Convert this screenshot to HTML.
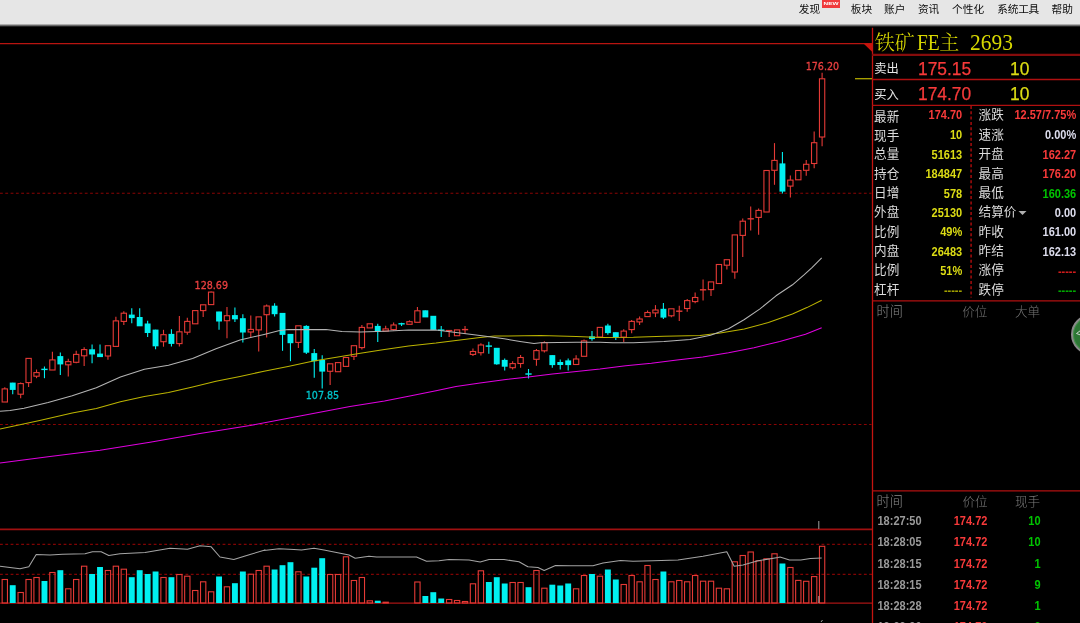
<!DOCTYPE html>
<html lang="zh"><head><meta charset="utf-8"><title>铁矿FE主</title>
<style>
html,body{margin:0;padding:0;background:#000;}
body{width:1080px;height:623px;position:relative;overflow:hidden;font-family:"Liberation Sans","Noto Sans CJK SC",sans-serif;}
#top{position:absolute;left:0;top:0;width:1080px;height:27px;background:linear-gradient(#e6e6e6 0,#e6e6e6 23.7px,#6e6e6e 25.4px,#000 27px);}
#top span{position:absolute;top:2px;font-size:10.7px;line-height:14px;color:#0c0c0c;white-space:nowrap;font-family:"Liberation Sans","Noto Sans CJK SC",sans-serif;}
#new{position:absolute;left:821.9px;top:0;width:18px;height:7.7px;background:#f03a3c;overflow:hidden}
#new b{position:absolute;left:0;top:2.3px;width:18px;text-align:center;color:#fff;font-size:4.3px;line-height:3.6px;font-weight:bold;transform:scaleX(1.5);transform-origin:50% 50%;display:block}
.vline{position:absolute;left:871.8px;top:27.8px;width:1.2px;height:600px;background:#c81010;}
.hl{position:absolute;left:872px;width:208px;background:#a60f0f;}
#title,.tt{position:absolute;top:31.1px;font-family:"Liberation Serif","Noto Serif CJK SC",serif;font-size:20px;line-height:24px;color:#dede00;white-space:nowrap;font-weight:300}
.tl{position:absolute;top:29.6px;font-family:"Liberation Serif","Noto Serif CJK SC",serif;font-size:23.2px;line-height:24px;color:#d8d800;transform-origin:0 50%;white-space:nowrap}
.big{position:absolute;font-size:18.4px;line-height:22px;white-space:nowrap;transform:scaleX(0.945);transform-origin:0 50%;-webkit-text-stroke:0.25px currentColor}
.lb{position:absolute;font-size:12.6px;line-height:16px;color:#dcdcdc;white-space:nowrap;font-family:"Noto Sans CJK SC","Liberation Sans",sans-serif;font-weight:400}
.lb2{position:absolute;font-size:12.3px;line-height:16px;color:#e6e6e6;white-space:nowrap;font-family:"Noto Sans CJK SC","Liberation Sans",sans-serif;font-weight:400}
.vl{position:absolute;font-size:11px;line-height:15px;font-weight:bold;white-space:nowrap;transform:scaleY(1.13);transform-origin:50% 52%}
.r{color:#f83a3a}.y{color:#dcdc14}.g{color:#00c400}.w{color:#dcdcec}.tm{color:#9a9a9a}
.yd{color:#a0a000;margin-top:1.1px}.rd{color:#d01c1c;margin-top:1.1px}.gd{color:#00a800;margin-top:1.1px}
.hd{position:absolute;font-size:12.3px;line-height:16px;white-space:nowrap;font-family:"Noto Sans CJK SC","Liberation Sans",sans-serif;font-weight:300}
</style></head><body>
<svg width="1080" height="623" viewBox="0 0 1080 623" style="position:absolute;left:0;top:0">
<g fill="none">
<line x1="0" y1="43.6" x2="872" y2="43.6" stroke="#b81410" stroke-width="1.1"/>
<polygon points="863.5,43.6 872.6,43.6 872.6,52.2" fill="#c8140c" stroke="none"/>
<line x1="0" y1="193.3" x2="871.5" y2="193.3" stroke="#8a0404" stroke-width="1.1" stroke-dasharray="2.8 2.5"/>
<line x1="0" y1="424.5" x2="871.5" y2="424.5" stroke="#8a0404" stroke-width="1.1" stroke-dasharray="2.8 2.5"/>
<line x1="0" y1="529.3" x2="872" y2="529.3" stroke="#a01010" stroke-width="1.7"/>
<line x1="0" y1="544.3" x2="872" y2="544.3" stroke="#800404" stroke-width="1.3" stroke-dasharray="2.8 2.5"/>
<line x1="0" y1="574.3" x2="872" y2="574.3" stroke="#800404" stroke-width="1.3" stroke-dasharray="2.8 2.5"/>
<line x1="0" y1="603.1" x2="872" y2="603.1" stroke="#a81414" stroke-width="1.3"/>
</g>
<g stroke-width="1.1">
<line x1="4.80" y1="387.3" x2="4.80" y2="388.9" stroke="#e53a36"/>
<rect x="2.15" y="388.9" width="5.30" height="13.1" fill="none" stroke="#e53a36"/>
<line x1="12.73" y1="382.8" x2="12.73" y2="394.2" stroke="#00f0f0"/>
<rect x="9.78" y="382.6" width="5.90" height="7.3" fill="#00f0f0" stroke="none"/>
<line x1="20.67" y1="382.5" x2="20.67" y2="383.6" stroke="#e53a36"/>
<line x1="20.67" y1="394.1" x2="20.67" y2="398.2" stroke="#e53a36"/>
<rect x="18.02" y="383.6" width="5.30" height="10.6" fill="none" stroke="#e53a36"/>
<line x1="28.61" y1="382.6" x2="28.61" y2="387.0" stroke="#e53a36"/>
<rect x="25.96" y="358.4" width="5.30" height="24.2" fill="none" stroke="#e53a36"/>
<line x1="36.54" y1="369.5" x2="36.54" y2="372.6" stroke="#e53a36"/>
<line x1="36.54" y1="376.1" x2="36.54" y2="378.2" stroke="#e53a36"/>
<rect x="33.89" y="372.6" width="5.30" height="3.6" fill="none" stroke="#e53a36"/>
<line x1="44.47" y1="366.5" x2="44.47" y2="378.2" stroke="#00f0f0"/>
<line x1="41.32" y1="369.4" x2="47.62" y2="369.4" stroke="#00f0f0" stroke-width="1.4"/>
<line x1="52.41" y1="351.8" x2="52.41" y2="359.9" stroke="#e53a36"/>
<rect x="49.76" y="359.9" width="5.30" height="10.1" fill="none" stroke="#e53a36"/>
<line x1="60.34" y1="352.5" x2="60.34" y2="375.0" stroke="#00f0f0"/>
<rect x="57.39" y="356.1" width="5.90" height="8.3" fill="#00f0f0" stroke="none"/>
<line x1="68.28" y1="358.8" x2="68.28" y2="361.6" stroke="#e53a36"/>
<line x1="68.28" y1="364.8" x2="68.28" y2="376.4" stroke="#e53a36"/>
<rect x="65.63" y="361.6" width="5.30" height="3.2" fill="none" stroke="#e53a36"/>
<line x1="76.21" y1="350.8" x2="76.21" y2="354.4" stroke="#e53a36"/>
<line x1="76.21" y1="362.3" x2="76.21" y2="363.2" stroke="#e53a36"/>
<rect x="73.56" y="354.4" width="5.30" height="7.9" fill="none" stroke="#e53a36"/>
<line x1="84.15" y1="347.3" x2="84.15" y2="349.6" stroke="#e53a36"/>
<line x1="84.15" y1="355.8" x2="84.15" y2="366.0" stroke="#e53a36"/>
<rect x="81.50" y="349.6" width="5.30" height="6.2" fill="none" stroke="#e53a36"/>
<line x1="92.08" y1="344.5" x2="92.08" y2="363.2" stroke="#00f0f0"/>
<rect x="89.13" y="349.3" width="5.90" height="5.2" fill="#00f0f0" stroke="none"/>
<line x1="100.02" y1="344.5" x2="100.02" y2="356.9" stroke="#00f0f0"/>
<rect x="97.07" y="353.6" width="5.90" height="3.5" fill="#00f0f0" stroke="none"/>
<line x1="107.95" y1="356.1" x2="107.95" y2="359.7" stroke="#e53a36"/>
<rect x="105.30" y="345.7" width="5.30" height="10.3" fill="none" stroke="#e53a36"/>
<line x1="115.89" y1="316.8" x2="115.89" y2="320.9" stroke="#e53a36"/>
<rect x="113.24" y="320.9" width="5.30" height="25.5" fill="none" stroke="#e53a36"/>
<line x1="123.82" y1="311.2" x2="123.82" y2="313.2" stroke="#e53a36"/>
<line x1="123.82" y1="321.4" x2="123.82" y2="325.1" stroke="#e53a36"/>
<rect x="121.17" y="313.2" width="5.30" height="8.2" fill="none" stroke="#e53a36"/>
<line x1="131.76" y1="308.3" x2="131.76" y2="323.2" stroke="#00f0f0"/>
<rect x="128.81" y="314.6" width="5.90" height="3.5" fill="#00f0f0" stroke="none"/>
<line x1="139.69" y1="308.3" x2="139.69" y2="326.0" stroke="#00f0f0"/>
<rect x="136.74" y="317.0" width="5.90" height="9.3" fill="#00f0f0" stroke="none"/>
<line x1="147.63" y1="320.8" x2="147.63" y2="336.9" stroke="#00f0f0"/>
<rect x="144.68" y="323.5" width="5.90" height="9.5" fill="#00f0f0" stroke="none"/>
<line x1="155.56" y1="329.8" x2="155.56" y2="349.2" stroke="#00f0f0"/>
<rect x="152.61" y="329.6" width="5.90" height="16.7" fill="#00f0f0" stroke="none"/>
<line x1="163.50" y1="329.8" x2="163.50" y2="334.7" stroke="#e53a36"/>
<line x1="163.50" y1="341.6" x2="163.50" y2="346.7" stroke="#e53a36"/>
<rect x="160.85" y="334.7" width="5.30" height="7.0" fill="none" stroke="#e53a36"/>
<line x1="171.44" y1="329.3" x2="171.44" y2="346.5" stroke="#00f0f0"/>
<rect x="168.48" y="333.9" width="5.90" height="10.0" fill="#00f0f0" stroke="none"/>
<line x1="179.37" y1="316.0" x2="179.37" y2="331.8" stroke="#e53a36"/>
<line x1="179.37" y1="343.6" x2="179.37" y2="346.5" stroke="#e53a36"/>
<rect x="176.72" y="331.8" width="5.30" height="11.8" fill="none" stroke="#e53a36"/>
<line x1="187.31" y1="317.7" x2="187.31" y2="321.4" stroke="#e53a36"/>
<line x1="187.31" y1="332.3" x2="187.31" y2="334.7" stroke="#e53a36"/>
<rect x="184.66" y="321.4" width="5.30" height="10.8" fill="none" stroke="#e53a36"/>
<rect x="192.59" y="310.6" width="5.30" height="13.2" fill="none" stroke="#e53a36"/>
<line x1="203.18" y1="310.6" x2="203.18" y2="317.1" stroke="#e53a36"/>
<rect x="200.53" y="304.8" width="5.30" height="5.8" fill="none" stroke="#e53a36"/>
<line x1="211.11" y1="291.5" x2="211.11" y2="292.1" stroke="#e53a36"/>
<rect x="208.46" y="292.1" width="5.30" height="12.5" fill="none" stroke="#e53a36"/>
<line x1="219.04" y1="311.7" x2="219.04" y2="329.7" stroke="#00f0f0"/>
<rect x="216.09" y="311.5" width="5.90" height="10.0" fill="#00f0f0" stroke="none"/>
<line x1="226.98" y1="306.9" x2="226.98" y2="315.7" stroke="#e53a36"/>
<line x1="226.98" y1="320.7" x2="226.98" y2="338.3" stroke="#e53a36"/>
<rect x="224.33" y="315.7" width="5.30" height="5.0" fill="none" stroke="#e53a36"/>
<line x1="234.91" y1="307.6" x2="234.91" y2="322.0" stroke="#00f0f0"/>
<rect x="231.96" y="315.1" width="5.90" height="4.2" fill="#00f0f0" stroke="none"/>
<line x1="242.85" y1="314.3" x2="242.85" y2="342.4" stroke="#00f0f0"/>
<rect x="239.90" y="318.2" width="5.90" height="14.3" fill="#00f0f0" stroke="none"/>
<line x1="250.78" y1="315.6" x2="250.78" y2="329.4" stroke="#e53a36"/>
<line x1="250.78" y1="332.0" x2="250.78" y2="336.9" stroke="#e53a36"/>
<rect x="248.13" y="329.4" width="5.30" height="2.6" fill="none" stroke="#e53a36"/>
<line x1="258.72" y1="329.8" x2="258.72" y2="351.6" stroke="#e53a36"/>
<rect x="256.07" y="316.9" width="5.30" height="13.0" fill="none" stroke="#e53a36"/>
<line x1="266.65" y1="304.5" x2="266.65" y2="306.0" stroke="#e53a36"/>
<line x1="266.65" y1="314.7" x2="266.65" y2="337.6" stroke="#e53a36"/>
<rect x="264.00" y="306.0" width="5.30" height="8.7" fill="none" stroke="#e53a36"/>
<line x1="274.59" y1="303.3" x2="274.59" y2="316.4" stroke="#00f0f0"/>
<rect x="271.64" y="305.7" width="5.90" height="8.5" fill="#00f0f0" stroke="none"/>
<line x1="282.52" y1="313.1" x2="282.52" y2="350.8" stroke="#00f0f0"/>
<rect x="279.57" y="312.9" width="5.90" height="22.0" fill="#00f0f0" stroke="none"/>
<line x1="290.46" y1="334.1" x2="290.46" y2="361.2" stroke="#00f0f0"/>
<rect x="287.51" y="333.9" width="5.90" height="9.3" fill="#00f0f0" stroke="none"/>
<line x1="298.39" y1="342.4" x2="298.39" y2="347.9" stroke="#e53a36"/>
<rect x="295.75" y="325.8" width="5.30" height="16.6" fill="none" stroke="#e53a36"/>
<line x1="306.33" y1="325.2" x2="306.33" y2="354.0" stroke="#00f0f0"/>
<rect x="303.38" y="325.9" width="5.90" height="26.8" fill="#00f0f0" stroke="none"/>
<line x1="314.26" y1="349.0" x2="314.26" y2="377.8" stroke="#00f0f0"/>
<rect x="311.31" y="353.1" width="5.90" height="8.1" fill="#00f0f0" stroke="none"/>
<line x1="322.20" y1="355.3" x2="322.20" y2="388.6" stroke="#00f0f0"/>
<rect x="319.25" y="359.9" width="5.90" height="11.7" fill="#00f0f0" stroke="none"/>
<line x1="330.13" y1="371.2" x2="330.13" y2="385.0" stroke="#e53a36"/>
<rect x="327.49" y="363.8" width="5.30" height="7.5" fill="none" stroke="#e53a36"/>
<rect x="335.42" y="362.6" width="5.30" height="9.1" fill="none" stroke="#e53a36"/>
<rect x="343.36" y="357.5" width="5.30" height="8.9" fill="none" stroke="#e53a36"/>
<line x1="353.94" y1="356.3" x2="353.94" y2="360.0" stroke="#e53a36"/>
<rect x="351.29" y="345.7" width="5.30" height="10.6" fill="none" stroke="#e53a36"/>
<line x1="361.88" y1="324.9" x2="361.88" y2="327.4" stroke="#e53a36"/>
<line x1="361.88" y1="347.7" x2="361.88" y2="349.6" stroke="#e53a36"/>
<rect x="359.23" y="327.4" width="5.30" height="20.2" fill="none" stroke="#e53a36"/>
<rect x="367.16" y="323.8" width="5.30" height="4.1" fill="none" stroke="#e53a36"/>
<line x1="377.75" y1="323.7" x2="377.75" y2="341.9" stroke="#00f0f0"/>
<rect x="374.80" y="325.9" width="5.90" height="5.9" fill="#00f0f0" stroke="none"/>
<line x1="385.68" y1="325.7" x2="385.68" y2="328.9" stroke="#e53a36"/>
<rect x="383.03" y="328.9" width="5.30" height="2.2" fill="none" stroke="#e53a36"/>
<line x1="393.62" y1="322.5" x2="393.62" y2="325.0" stroke="#e53a36"/>
<line x1="393.62" y1="329.6" x2="393.62" y2="330.4" stroke="#e53a36"/>
<rect x="390.97" y="325.0" width="5.30" height="4.6" fill="none" stroke="#e53a36"/>
<line x1="401.55" y1="322.8" x2="401.55" y2="326.0" stroke="#00f0f0"/>
<line x1="398.40" y1="323.8" x2="404.70" y2="323.8" stroke="#00f0f0" stroke-width="1.4"/>
<line x1="409.49" y1="320.4" x2="409.49" y2="321.7" stroke="#e53a36"/>
<rect x="406.84" y="321.7" width="5.30" height="2.6" fill="none" stroke="#e53a36"/>
<line x1="417.42" y1="306.9" x2="417.42" y2="310.8" stroke="#e53a36"/>
<rect x="414.77" y="310.8" width="5.30" height="11.5" fill="none" stroke="#e53a36"/>
<line x1="425.36" y1="310.5" x2="425.36" y2="317.1" stroke="#00f0f0"/>
<rect x="422.41" y="310.3" width="5.90" height="7.1" fill="#00f0f0" stroke="none"/>
<line x1="433.29" y1="316.0" x2="433.29" y2="329.7" stroke="#00f0f0"/>
<rect x="430.34" y="315.8" width="5.90" height="14.1" fill="#00f0f0" stroke="none"/>
<line x1="441.22" y1="326.1" x2="441.22" y2="336.9" stroke="#00f0f0"/>
<line x1="438.07" y1="330.1" x2="444.37" y2="330.1" stroke="#00f0f0" stroke-width="1.4"/>
<line x1="449.16" y1="330.0" x2="449.16" y2="337.1" stroke="#e53a36"/>
<line x1="446.01" y1="330.6" x2="452.31" y2="330.6" stroke="#e53a36" stroke-width="1.4"/>
<rect x="454.44" y="329.9" width="5.30" height="5.8" fill="none" stroke="#e53a36"/>
<line x1="465.03" y1="326.1" x2="465.03" y2="334.0" stroke="#e53a36"/>
<line x1="461.88" y1="329.6" x2="468.18" y2="329.6" stroke="#e53a36" stroke-width="1.4"/>
<line x1="472.96" y1="348.5" x2="472.96" y2="351.5" stroke="#e53a36"/>
<line x1="472.96" y1="354.4" x2="472.96" y2="356.1" stroke="#e53a36"/>
<rect x="470.31" y="351.5" width="5.30" height="2.9" fill="none" stroke="#e53a36"/>
<line x1="480.90" y1="343.2" x2="480.90" y2="345.0" stroke="#e53a36"/>
<line x1="480.90" y1="352.7" x2="480.90" y2="355.6" stroke="#e53a36"/>
<rect x="478.25" y="345.0" width="5.30" height="7.7" fill="none" stroke="#e53a36"/>
<line x1="488.83" y1="341.8" x2="488.83" y2="353.7" stroke="#00f0f0"/>
<line x1="485.69" y1="346.1" x2="491.98" y2="346.1" stroke="#00f0f0" stroke-width="1.4"/>
<line x1="496.77" y1="348.0" x2="496.77" y2="364.8" stroke="#00f0f0"/>
<rect x="493.82" y="347.8" width="5.90" height="16.5" fill="#00f0f0" stroke="none"/>
<line x1="504.70" y1="358.6" x2="504.70" y2="370.6" stroke="#00f0f0"/>
<rect x="501.75" y="359.9" width="5.90" height="6.8" fill="#00f0f0" stroke="none"/>
<line x1="512.64" y1="361.3" x2="512.64" y2="363.6" stroke="#e53a36"/>
<line x1="512.64" y1="367.6" x2="512.64" y2="369.4" stroke="#e53a36"/>
<rect x="509.99" y="363.6" width="5.30" height="4.1" fill="none" stroke="#e53a36"/>
<line x1="520.57" y1="355.0" x2="520.57" y2="357.5" stroke="#e53a36"/>
<line x1="520.57" y1="363.5" x2="520.57" y2="367.7" stroke="#e53a36"/>
<rect x="517.92" y="357.5" width="5.30" height="6.0" fill="none" stroke="#e53a36"/>
<line x1="528.51" y1="369.0" x2="528.51" y2="378.5" stroke="#00f0f0"/>
<line x1="525.36" y1="374.0" x2="531.66" y2="374.0" stroke="#00f0f0" stroke-width="1.4"/>
<line x1="536.44" y1="349.0" x2="536.44" y2="350.6" stroke="#e53a36"/>
<line x1="536.44" y1="359.2" x2="536.44" y2="365.8" stroke="#e53a36"/>
<rect x="533.79" y="350.6" width="5.30" height="8.7" fill="none" stroke="#e53a36"/>
<line x1="544.38" y1="341.3" x2="544.38" y2="342.6" stroke="#e53a36"/>
<line x1="544.38" y1="350.8" x2="544.38" y2="352.5" stroke="#e53a36"/>
<rect x="541.73" y="342.6" width="5.30" height="8.2" fill="none" stroke="#e53a36"/>
<line x1="552.31" y1="355.3" x2="552.31" y2="367.7" stroke="#00f0f0"/>
<rect x="549.37" y="355.1" width="5.90" height="10.0" fill="#00f0f0" stroke="none"/>
<line x1="560.25" y1="359.4" x2="560.25" y2="369.6" stroke="#00f0f0"/>
<rect x="557.30" y="362.0" width="5.90" height="3.0" fill="#00f0f0" stroke="none"/>
<line x1="568.18" y1="358.6" x2="568.18" y2="370.6" stroke="#00f0f0"/>
<rect x="565.24" y="360.4" width="5.90" height="4.7" fill="#00f0f0" stroke="none"/>
<line x1="576.12" y1="355.3" x2="576.12" y2="359.0" stroke="#e53a36"/>
<rect x="573.47" y="359.0" width="5.30" height="5.5" fill="none" stroke="#e53a36"/>
<line x1="584.05" y1="339.6" x2="584.05" y2="340.9" stroke="#e53a36"/>
<rect x="581.40" y="340.9" width="5.30" height="15.4" fill="none" stroke="#e53a36"/>
<line x1="591.99" y1="331.0" x2="591.99" y2="340.7" stroke="#00f0f0"/>
<rect x="589.04" y="336.3" width="5.90" height="2.8" fill="#00f0f0" stroke="none"/>
<rect x="597.27" y="327.4" width="5.30" height="9.6" fill="none" stroke="#e53a36"/>
<line x1="607.86" y1="323.7" x2="607.86" y2="334.7" stroke="#00f0f0"/>
<rect x="604.91" y="325.5" width="5.90" height="7.6" fill="#00f0f0" stroke="none"/>
<line x1="615.79" y1="332.4" x2="615.79" y2="340.0" stroke="#00f0f0"/>
<rect x="612.85" y="332.2" width="5.90" height="5.2" fill="#00f0f0" stroke="none"/>
<line x1="623.73" y1="329.3" x2="623.73" y2="331.1" stroke="#e53a36"/>
<line x1="623.73" y1="337.1" x2="623.73" y2="341.9" stroke="#e53a36"/>
<rect x="621.08" y="331.1" width="5.30" height="6.0" fill="none" stroke="#e53a36"/>
<line x1="631.66" y1="320.1" x2="631.66" y2="321.4" stroke="#e53a36"/>
<line x1="631.66" y1="329.6" x2="631.66" y2="333.3" stroke="#e53a36"/>
<rect x="629.01" y="321.4" width="5.30" height="8.2" fill="none" stroke="#e53a36"/>
<line x1="639.60" y1="316.5" x2="639.60" y2="319.0" stroke="#e53a36"/>
<line x1="639.60" y1="321.9" x2="639.60" y2="325.1" stroke="#e53a36"/>
<rect x="636.95" y="319.0" width="5.30" height="2.9" fill="none" stroke="#e53a36"/>
<line x1="647.53" y1="310.5" x2="647.53" y2="312.5" stroke="#e53a36"/>
<rect x="644.88" y="312.5" width="5.30" height="4.1" fill="none" stroke="#e53a36"/>
<line x1="655.47" y1="305.1" x2="655.47" y2="310.0" stroke="#e53a36"/>
<line x1="655.47" y1="312.9" x2="655.47" y2="317.1" stroke="#e53a36"/>
<rect x="652.82" y="310.0" width="5.30" height="2.9" fill="none" stroke="#e53a36"/>
<line x1="663.40" y1="302.9" x2="663.40" y2="319.0" stroke="#00f0f0"/>
<rect x="660.46" y="308.8" width="5.90" height="8.8" fill="#00f0f0" stroke="none"/>
<line x1="671.34" y1="315.8" x2="671.34" y2="317.3" stroke="#e53a36"/>
<rect x="668.69" y="308.8" width="5.30" height="7.0" fill="none" stroke="#e53a36"/>
<line x1="679.27" y1="305.8" x2="679.27" y2="320.9" stroke="#e53a36"/>
<line x1="676.12" y1="311.2" x2="682.42" y2="311.2" stroke="#e53a36" stroke-width="1.4"/>
<line x1="687.21" y1="299.1" x2="687.21" y2="300.6" stroke="#e53a36"/>
<line x1="687.21" y1="308.6" x2="687.21" y2="311.8" stroke="#e53a36"/>
<rect x="684.56" y="300.6" width="5.30" height="7.9" fill="none" stroke="#e53a36"/>
<line x1="695.14" y1="292.6" x2="695.14" y2="297.5" stroke="#e53a36"/>
<line x1="695.14" y1="301.6" x2="695.14" y2="303.3" stroke="#e53a36"/>
<rect x="692.49" y="297.5" width="5.30" height="4.1" fill="none" stroke="#e53a36"/>
<line x1="703.08" y1="279.4" x2="703.08" y2="300.4" stroke="#e53a36"/>
<line x1="699.93" y1="289.8" x2="706.23" y2="289.8" stroke="#e53a36" stroke-width="1.4"/>
<line x1="711.01" y1="289.6" x2="711.01" y2="296.1" stroke="#e53a36"/>
<rect x="708.36" y="281.9" width="5.30" height="7.7" fill="none" stroke="#e53a36"/>
<rect x="716.30" y="264.5" width="5.30" height="19.0" fill="none" stroke="#e53a36"/>
<line x1="726.88" y1="265.2" x2="726.88" y2="269.6" stroke="#e53a36"/>
<rect x="724.23" y="259.7" width="5.30" height="5.5" fill="none" stroke="#e53a36"/>
<line x1="734.82" y1="272.0" x2="734.82" y2="278.8" stroke="#e53a36"/>
<rect x="732.17" y="234.9" width="5.30" height="37.1" fill="none" stroke="#e53a36"/>
<line x1="742.75" y1="218.5" x2="742.75" y2="221.2" stroke="#e53a36"/>
<line x1="742.75" y1="235.4" x2="742.75" y2="257.1" stroke="#e53a36"/>
<rect x="740.10" y="221.2" width="5.30" height="14.2" fill="none" stroke="#e53a36"/>
<line x1="750.69" y1="206.4" x2="750.69" y2="230.6" stroke="#e53a36"/>
<line x1="747.54" y1="218.8" x2="753.84" y2="218.8" stroke="#e53a36" stroke-width="1.4"/>
<line x1="758.62" y1="208.4" x2="758.62" y2="210.4" stroke="#e53a36"/>
<line x1="758.62" y1="217.3" x2="758.62" y2="234.7" stroke="#e53a36"/>
<rect x="755.97" y="210.4" width="5.30" height="7.0" fill="none" stroke="#e53a36"/>
<rect x="763.91" y="170.5" width="5.30" height="41.5" fill="none" stroke="#e53a36"/>
<line x1="774.49" y1="143.1" x2="774.49" y2="160.4" stroke="#e53a36"/>
<line x1="774.49" y1="170.3" x2="774.49" y2="184.8" stroke="#e53a36"/>
<rect x="771.84" y="160.4" width="5.30" height="9.9" fill="none" stroke="#e53a36"/>
<line x1="782.43" y1="151.9" x2="782.43" y2="193.5" stroke="#00f0f0"/>
<rect x="779.48" y="163.4" width="5.90" height="28.2" fill="#00f0f0" stroke="none"/>
<line x1="790.36" y1="175.4" x2="790.36" y2="180.1" stroke="#e53a36"/>
<line x1="790.36" y1="186.1" x2="790.36" y2="197.6" stroke="#e53a36"/>
<rect x="787.71" y="180.1" width="5.30" height="6.0" fill="none" stroke="#e53a36"/>
<rect x="795.65" y="170.5" width="5.30" height="9.3" fill="none" stroke="#e53a36"/>
<line x1="806.23" y1="160.1" x2="806.23" y2="164.3" stroke="#e53a36"/>
<line x1="806.23" y1="170.3" x2="806.23" y2="175.8" stroke="#e53a36"/>
<rect x="803.58" y="164.3" width="5.30" height="6.0" fill="none" stroke="#e53a36"/>
<line x1="814.17" y1="131.4" x2="814.17" y2="142.7" stroke="#e53a36"/>
<line x1="814.17" y1="163.5" x2="814.17" y2="168.2" stroke="#e53a36"/>
<rect x="811.52" y="142.7" width="5.30" height="20.8" fill="none" stroke="#e53a36"/>
<line x1="822.10" y1="72.7" x2="822.10" y2="78.8" stroke="#e53a36"/>
<line x1="822.10" y1="137.0" x2="822.10" y2="146.3" stroke="#e53a36"/>
<rect x="819.45" y="78.8" width="5.30" height="58.2" fill="none" stroke="#e53a36"/>
</g>
<g fill="none" stroke-width="1.05" stroke-linejoin="round">
<polyline points="0.0,463.0 50.0,456.6 100.0,450.2 150.0,442.2 200.0,433.5 250.0,425.5 300.0,416.0 350.0,406.5 384.5,401.0 408.6,396.2 436.0,390.8 456.0,386.5 480.0,382.9 504.0,379.8 528.3,376.9 552.4,374.0 576.4,371.4 600.0,369.0 625.7,365.8 651.4,363.3 677.0,360.1 702.8,357.0 728.5,352.7 754.0,347.7 779.8,341.4 805.5,334.2 821.7,327.8" stroke="#e000e0"/>
<polyline points="0.0,429.1 39.7,420.6 72.2,413.1 96.3,408.4 120.4,401.8 144.4,396.4 168.5,392.6 192.6,386.9 216.0,381.2 240.0,376.4 264.0,371.2 288.0,366.4 312.3,361.2 336.4,357.2 360.4,353.2 384.5,349.6 408.6,345.9 436.0,343.1 456.0,340.4 480.0,337.4 494.6,336.1 540.3,335.6 576.4,336.4 600.5,337.4 633.4,337.2 664.0,336.2 700.0,335.6 720.2,333.1 744.3,328.9 768.4,322.6 792.4,314.1 806.9,307.6 821.7,300.2" stroke="#bcb400"/>
<polyline points="0.0,411.2 10.0,410.6 24.0,408.2 48.1,402.4 72.2,395.8 96.3,387.8 120.4,376.9 144.4,369.2 168.5,365.2 192.6,358.4 216.0,348.8 240.0,339.9 264.1,334.4 278.6,330.8 288.2,329.4 312.3,329.6 326.0,329.6 342.0,331.6 360.4,332.1 384.5,331.2 408.6,330.1 436.0,330.1 456.0,332.4 480.0,335.6 504.2,338.8 520.0,341.4 534.0,343.4 540.5,342.8 576.4,342.2 600.0,342.2 612.8,342.8 633.4,342.8 664.0,341.6 690.0,339.4 710.5,335.2 728.5,328.8 744.0,319.8 760.0,308.9 776.0,295.8 792.5,284.8 804.0,274.9 812.0,267.6 821.7,257.9" stroke="#b4b4b4"/>
</g>
<g stroke-width="1.1">
<rect x="2.15" y="579.5" width="5.30" height="23.5" fill="none" stroke="#e53a36"/>
<rect x="9.78" y="585.2" width="5.90" height="17.8" fill="#00f0f0" stroke="none"/>
<rect x="18.02" y="592.5" width="5.30" height="10.5" fill="none" stroke="#e53a36"/>
<rect x="25.96" y="579.5" width="5.30" height="23.5" fill="none" stroke="#e53a36"/>
<rect x="33.89" y="577.5" width="5.30" height="25.5" fill="none" stroke="#e53a36"/>
<rect x="41.52" y="581.0" width="5.90" height="22.1" fill="#00f0f0" stroke="none"/>
<rect x="49.76" y="572.5" width="5.30" height="30.5" fill="none" stroke="#e53a36"/>
<rect x="57.39" y="570.2" width="5.90" height="32.8" fill="#00f0f0" stroke="none"/>
<rect x="65.63" y="588.8" width="5.30" height="14.2" fill="none" stroke="#e53a36"/>
<rect x="73.56" y="579.5" width="5.30" height="23.5" fill="none" stroke="#e53a36"/>
<rect x="81.50" y="566.2" width="5.30" height="36.8" fill="none" stroke="#e53a36"/>
<rect x="89.13" y="574.0" width="5.90" height="29.1" fill="#00f0f0" stroke="none"/>
<rect x="97.07" y="567.0" width="5.90" height="36.0" fill="#00f0f0" stroke="none"/>
<rect x="105.30" y="570.5" width="5.30" height="32.5" fill="none" stroke="#e53a36"/>
<rect x="113.24" y="566.2" width="5.30" height="36.8" fill="none" stroke="#e53a36"/>
<rect x="121.17" y="569.2" width="5.30" height="33.8" fill="none" stroke="#e53a36"/>
<rect x="128.81" y="577.2" width="5.90" height="25.8" fill="#00f0f0" stroke="none"/>
<rect x="136.74" y="570.2" width="5.90" height="32.8" fill="#00f0f0" stroke="none"/>
<rect x="144.68" y="574.0" width="5.90" height="29.1" fill="#00f0f0" stroke="none"/>
<rect x="152.61" y="571.5" width="5.90" height="31.6" fill="#00f0f0" stroke="none"/>
<rect x="160.85" y="577.5" width="5.30" height="25.5" fill="none" stroke="#e53a36"/>
<rect x="168.48" y="577.2" width="5.90" height="25.8" fill="#00f0f0" stroke="none"/>
<rect x="176.72" y="574.5" width="5.30" height="28.5" fill="none" stroke="#e53a36"/>
<rect x="184.66" y="576.2" width="5.30" height="26.8" fill="none" stroke="#e53a36"/>
<rect x="192.59" y="590.5" width="5.30" height="12.5" fill="none" stroke="#e53a36"/>
<rect x="200.53" y="581.8" width="5.30" height="21.2" fill="none" stroke="#e53a36"/>
<rect x="208.46" y="591.8" width="5.30" height="11.2" fill="none" stroke="#e53a36"/>
<rect x="216.09" y="576.5" width="5.90" height="26.6" fill="#00f0f0" stroke="none"/>
<rect x="224.33" y="586.8" width="5.30" height="16.2" fill="none" stroke="#e53a36"/>
<rect x="231.96" y="583.2" width="5.90" height="19.8" fill="#00f0f0" stroke="none"/>
<rect x="239.90" y="571.5" width="5.90" height="31.6" fill="#00f0f0" stroke="none"/>
<rect x="248.13" y="574.2" width="5.30" height="28.8" fill="none" stroke="#e53a36"/>
<rect x="256.07" y="570.5" width="5.30" height="32.5" fill="none" stroke="#e53a36"/>
<rect x="264.00" y="566.2" width="5.30" height="36.8" fill="none" stroke="#e53a36"/>
<rect x="271.64" y="569.5" width="5.90" height="33.5" fill="#00f0f0" stroke="none"/>
<rect x="279.57" y="565.2" width="5.90" height="37.8" fill="#00f0f0" stroke="none"/>
<rect x="287.51" y="562.2" width="5.90" height="40.8" fill="#00f0f0" stroke="none"/>
<rect x="295.75" y="571.8" width="5.30" height="31.2" fill="none" stroke="#e53a36"/>
<rect x="303.38" y="576.5" width="5.90" height="26.6" fill="#00f0f0" stroke="none"/>
<rect x="311.31" y="567.7" width="5.90" height="35.3" fill="#00f0f0" stroke="none"/>
<rect x="319.25" y="558.2" width="5.90" height="44.8" fill="#00f0f0" stroke="none"/>
<rect x="327.49" y="574.5" width="5.30" height="28.5" fill="none" stroke="#e53a36"/>
<rect x="335.42" y="574.5" width="5.30" height="28.5" fill="none" stroke="#e53a36"/>
<rect x="343.36" y="556.8" width="5.30" height="46.2" fill="none" stroke="#e53a36"/>
<rect x="351.29" y="580.5" width="5.30" height="22.5" fill="none" stroke="#e53a36"/>
<rect x="359.23" y="577.5" width="5.30" height="25.5" fill="none" stroke="#e53a36"/>
<rect x="367.16" y="600.8" width="5.30" height="2.2" fill="none" stroke="#e53a36"/>
<rect x="374.80" y="600.7" width="5.90" height="2.3" fill="#00f0f0" stroke="none"/>
<rect x="383.03" y="602.2" width="5.30" height="0.8" fill="none" stroke="#e53a36"/>
<rect x="414.77" y="582.0" width="5.30" height="21.0" fill="none" stroke="#e53a36"/>
<rect x="422.41" y="596.0" width="5.90" height="7.0" fill="#00f0f0" stroke="none"/>
<rect x="430.34" y="592.2" width="5.90" height="10.8" fill="#00f0f0" stroke="none"/>
<rect x="438.27" y="598.5" width="5.90" height="4.5" fill="#00f0f0" stroke="none"/>
<rect x="446.51" y="599.5" width="5.30" height="3.5" fill="none" stroke="#e53a36"/>
<rect x="454.44" y="600.5" width="5.30" height="2.5" fill="none" stroke="#e53a36"/>
<rect x="462.38" y="601.5" width="5.30" height="1.5" fill="none" stroke="#e53a36"/>
<rect x="470.31" y="583.8" width="5.30" height="19.2" fill="none" stroke="#e53a36"/>
<rect x="478.25" y="570.8" width="5.30" height="32.2" fill="none" stroke="#e53a36"/>
<rect x="485.88" y="582.0" width="5.90" height="21.1" fill="#00f0f0" stroke="none"/>
<rect x="493.82" y="577.2" width="5.90" height="25.8" fill="#00f0f0" stroke="none"/>
<rect x="501.75" y="583.5" width="5.90" height="19.6" fill="#00f0f0" stroke="none"/>
<rect x="509.99" y="582.5" width="5.30" height="20.5" fill="none" stroke="#e53a36"/>
<rect x="517.92" y="582.5" width="5.30" height="20.5" fill="none" stroke="#e53a36"/>
<rect x="525.56" y="587.2" width="5.90" height="15.8" fill="#00f0f0" stroke="none"/>
<rect x="533.79" y="570.5" width="5.30" height="32.5" fill="none" stroke="#e53a36"/>
<rect x="541.73" y="588.2" width="5.30" height="14.8" fill="none" stroke="#e53a36"/>
<rect x="549.37" y="584.7" width="5.90" height="18.3" fill="#00f0f0" stroke="none"/>
<rect x="557.30" y="585.5" width="5.90" height="17.6" fill="#00f0f0" stroke="none"/>
<rect x="565.24" y="583.5" width="5.90" height="19.6" fill="#00f0f0" stroke="none"/>
<rect x="573.47" y="588.8" width="5.30" height="14.2" fill="none" stroke="#e53a36"/>
<rect x="581.40" y="575.5" width="5.30" height="27.5" fill="none" stroke="#e53a36"/>
<rect x="589.04" y="574.0" width="5.90" height="29.1" fill="#00f0f0" stroke="none"/>
<rect x="597.27" y="576.2" width="5.30" height="26.8" fill="none" stroke="#e53a36"/>
<rect x="604.91" y="569.5" width="5.90" height="33.5" fill="#00f0f0" stroke="none"/>
<rect x="612.85" y="579.5" width="5.90" height="23.6" fill="#00f0f0" stroke="none"/>
<rect x="621.08" y="584.5" width="5.30" height="18.5" fill="none" stroke="#e53a36"/>
<rect x="629.01" y="575.5" width="5.30" height="27.5" fill="none" stroke="#e53a36"/>
<rect x="636.95" y="581.8" width="5.30" height="21.2" fill="none" stroke="#e53a36"/>
<rect x="644.88" y="565.5" width="5.30" height="37.5" fill="none" stroke="#e53a36"/>
<rect x="652.82" y="579.5" width="5.30" height="23.5" fill="none" stroke="#e53a36"/>
<rect x="660.46" y="571.5" width="5.90" height="31.6" fill="#00f0f0" stroke="none"/>
<rect x="668.69" y="581.8" width="5.30" height="21.2" fill="none" stroke="#e53a36"/>
<rect x="676.62" y="580.5" width="5.30" height="22.5" fill="none" stroke="#e53a36"/>
<rect x="684.56" y="581.8" width="5.30" height="21.2" fill="none" stroke="#e53a36"/>
<rect x="692.49" y="575.5" width="5.30" height="27.5" fill="none" stroke="#e53a36"/>
<rect x="700.43" y="581.2" width="5.30" height="21.8" fill="none" stroke="#e53a36"/>
<rect x="708.36" y="581.2" width="5.30" height="21.8" fill="none" stroke="#e53a36"/>
<rect x="716.30" y="588.2" width="5.30" height="14.8" fill="none" stroke="#e53a36"/>
<rect x="724.23" y="588.8" width="5.30" height="14.2" fill="none" stroke="#e53a36"/>
<rect x="732.17" y="561.8" width="5.30" height="41.2" fill="none" stroke="#e53a36"/>
<rect x="740.10" y="555.5" width="5.30" height="47.5" fill="none" stroke="#e53a36"/>
<rect x="748.04" y="552.0" width="5.30" height="51.0" fill="none" stroke="#e53a36"/>
<rect x="755.97" y="560.8" width="5.30" height="42.2" fill="none" stroke="#e53a36"/>
<rect x="763.91" y="558.8" width="5.30" height="44.2" fill="none" stroke="#e53a36"/>
<rect x="771.84" y="553.8" width="5.30" height="49.2" fill="none" stroke="#e53a36"/>
<rect x="779.48" y="563.5" width="5.90" height="39.5" fill="#00f0f0" stroke="none"/>
<rect x="787.71" y="567.5" width="5.30" height="35.5" fill="none" stroke="#e53a36"/>
<rect x="795.65" y="580.4" width="5.30" height="22.6" fill="none" stroke="#e53a36"/>
<rect x="803.58" y="581.3" width="5.30" height="21.7" fill="none" stroke="#e53a36"/>
<rect x="811.52" y="576.6" width="5.30" height="26.4" fill="none" stroke="#e53a36"/>
<rect x="819.45" y="546.3" width="5.30" height="56.7" fill="none" stroke="#e53a36"/>
</g>
<polyline points="0.0,566.2 10.0,567.5 20.0,568.8 28.8,566.8 36.2,554.5 50.0,555.0 62.5,554.2 85.0,553.8 92.5,551.8 101.2,551.8 108.8,555.5 120.0,553.8 145.0,552.5 170.0,548.2 187.5,549.2 200.0,545.8 211.2,546.8 220.0,557.0 233.8,559.5 250.0,554.5 265.0,550.0 264.0,550.5 279.0,548.8 294.0,549.5 301.5,550.0 314.0,548.2 324.0,550.0 339.0,553.0 349.0,555.0 355.2,558.2 369.0,556.2 376.5,557.0 416.5,557.0 426.5,561.2 439.0,560.8 449.0,559.5 469.0,560.0 480.2,562.0 489.0,559.5 504.0,559.5 519.0,561.8 526.5,566.0 528.0,566.8 538.0,567.5 544.2,570.5 555.5,565.5 570.5,565.8 593.0,565.8 603.0,563.0 620.5,560.5 633.0,561.2 653.0,560.8 678.0,560.0 703.0,556.2 726.8,551.8 734.2,566.2 743.0,565.0 758.0,560.8 778.0,557.5 780.0,557.1 789.5,559.9 800.8,559.9 810.3,558.4 821.7,558.0" fill="none" stroke="#a4a4a4" stroke-width="1.05" stroke-linejoin="round"/>
<line x1="872.5" y1="27.8" x2="872.5" y2="623" stroke="#c41410" stroke-width="1.3"/>
<line x1="872" y1="54.9" x2="1080" y2="54.9" stroke="#860c0c" stroke-width="2.1"/>
<line x1="872" y1="79.5" x2="1080" y2="79.5" stroke="#b01010" stroke-width="1.3"/>
<line x1="872" y1="105.3" x2="1080" y2="105.3" stroke="#b01010" stroke-width="1.3"/>
<line x1="872" y1="300.9" x2="1080" y2="300.9" stroke="#b01010" stroke-width="1.3"/>
<line x1="872" y1="490.8" x2="1080" y2="490.8" stroke="#b01010" stroke-width="1.3"/>
<line x1="971.1" y1="106" x2="971.1" y2="297.5" stroke="#9c0c0c" stroke-width="1.6" stroke-dasharray="3 2.3"/>
<line x1="818.8" y1="521" x2="818.8" y2="529" stroke="#a0a0a0" stroke-width="1"/>
<line x1="818.8" y1="596" x2="818.8" y2="603" stroke="#a0a0a0" stroke-width="1"/>
<path d="M821 622 L822.5 620" stroke="#a0a0a0" stroke-width="1" fill="none"/>
<line x1="855" y1="78.7" x2="872" y2="78.7" stroke="#b0a800" stroke-width="1.3"/>
<g font-family="'DejaVu Sans','Liberation Sans',sans-serif" font-size="10.4px" text-anchor="middle">
<text textLength="33.4" lengthAdjust="spacingAndGlyphs" x="822.4" y="69.6" fill="#ea4040" stroke="#ea4040" stroke-width="0.3">176.20</text>
<text textLength="33.4" lengthAdjust="spacingAndGlyphs" x="211.3" y="288.8" fill="#ea4040" stroke="#ea4040" stroke-width="0.3">128.69</text>
<text textLength="33.4" lengthAdjust="spacingAndGlyphs" x="322.5" y="398.8" fill="#00c4cc" stroke="#00c4cc" stroke-width="0.3">107.85</text>
</g>
</svg>
<div id="top">
<span style="left:798.8px">发现</span><span style="left:850.7px">板块</span><span style="left:884.1px">账户</span><span style="left:917.9px">资讯</span><span style="left:952.1px">个性化</span><span style="left:997.3px;letter-spacing:-0.25px">系统工具</span><span style="left:1051.6px">帮助</span>
<div id="new"><b>NEW</b></div>
</div>
<div class="tt" style="left:874.8px">铁矿</div><div class="tl" style="left:917.2px;transform:scaleX(0.84)">FE</div><div class="tt" style="left:939.3px">主</div><div class="tl" style="left:970.1px;transform:scaleX(0.925)">2693</div>
<div class="lb2" style="left:874.3px;top:60px">卖出</div>
<div class="big r" style="left:918px;top:57.6px">175.15</div>
<div class="big y" style="left:1009.5px;top:57.6px">10</div>
<div class="lb2" style="left:874.3px;top:85.5px">买入</div>
<div class="big r" style="left:918px;top:83.2px">174.70</div>
<div class="big y" style="left:1009.5px;top:83.2px">10</div>
<div class="lb" style="left:874.1px;top:108.0px">最新</div>
<div class="vl r" style="right:117.8px;top:108.2px">174.70</div>
<div class="lb" style="left:874.1px;top:126.5px">现手</div>
<div class="vl y" style="right:117.8px;top:128.4px">10</div>
<div class="lb" style="left:874.1px;top:145.4px">总量</div>
<div class="vl y" style="right:117.8px;top:148.0px">51613</div>
<div class="lb" style="left:874.1px;top:164.7px">持仓</div>
<div class="vl y" style="right:117.8px;top:166.8px">184847</div>
<div class="lb" style="left:874.1px;top:183.8px">日增</div>
<div class="vl y" style="right:117.8px;top:186.5px">578</div>
<div class="lb" style="left:874.1px;top:203.2px">外盘</div>
<div class="vl y" style="right:117.8px;top:206.0px">25130</div>
<div class="lb" style="left:874.1px;top:222.9px">比例</div>
<div class="vl y" style="right:117.8px;top:225.1px">49%</div>
<div class="lb" style="left:874.1px;top:242.2px">内盘</div>
<div class="vl y" style="right:117.8px;top:244.6px">26483</div>
<div class="lb" style="left:874.1px;top:261.4px">比例</div>
<div class="vl y" style="right:117.8px;top:264.0px">51%</div>
<div class="lb" style="left:874.1px;top:280.8px">杠杆</div>
<div class="vl yd" style="right:117.8px;top:283.4px">-----</div>
<div class="lb" style="left:978.6px;top:106.2px">涨跌</div>
<div class="vl r" style="right:3.8px;top:108.2px">12.57/7.75%</div>
<div class="lb" style="left:978.6px;top:125.7px">速涨</div>
<div class="vl w" style="right:3.8px;top:128.4px">0.00%</div>
<div class="lb" style="left:978.6px;top:145.2px">开盘</div>
<div class="vl r" style="right:3.8px;top:148.0px">162.27</div>
<div class="lb" style="left:978.6px;top:164.5px">最高</div>
<div class="vl r" style="right:3.8px;top:166.8px">176.20</div>
<div class="lb" style="left:978.6px;top:183.8px">最低</div>
<div class="vl g" style="right:3.8px;top:186.5px">160.36</div>
<div class="lb" style="left:978.6px;top:203.2px">结算价</div>
<div class="vl w" style="right:3.8px;top:206.0px">0.00</div>
<div class="lb" style="left:978.6px;top:222.9px">昨收</div>
<div class="vl w" style="right:3.8px;top:225.1px">161.00</div>
<div class="lb" style="left:978.6px;top:242.2px">昨结</div>
<div class="vl w" style="right:3.8px;top:244.6px">162.13</div>
<div class="lb" style="left:978.6px;top:261.4px">涨停</div>
<div class="vl rd" style="right:3.8px;top:264.0px">-----</div>
<div class="lb" style="left:978.6px;top:280.8px">跌停</div>
<div class="vl gd" style="right:3.8px;top:283.4px">-----</div>
<svg style="position:absolute;left:1018px;top:210px" width="10" height="6" viewBox="0 0 10 6"><polygon points="0.5,1 8.5,1 4.5,5" fill="#b0b0b0"/></svg>
<div class="hd" style="left:876.6px;top:302.9px;color:#8a8a8a;font-size:13.1px">时间</div>
<div class="hd" style="left:962.2px;top:303.1px;color:#747474;font-size:12.6px">价位</div>
<div class="hd" style="left:1015px;top:303.1px;color:#747474;font-size:12.6px">大单</div>
<div class="hd" style="left:876.6px;top:493.2px;color:#8e8e8e;font-size:13.1px">时间</div>
<div class="hd" style="left:962.4px;top:493.3px;color:#7c7c7c;font-size:12.6px">价位</div>
<div class="hd" style="left:1015px;top:493.3px;color:#7c7c7c;font-size:12.6px">现手</div>
<div class="vl tm" style="left:877.5px;top:514.2px">18:27:50</div>
<div class="vl r" style="right:92.6px;top:514.2px">174.72</div>
<div class="vl g" style="right:39.4px;top:514.2px">10</div>
<div class="vl tm" style="left:877.5px;top:535.3px">18:28:05</div>
<div class="vl r" style="right:92.6px;top:535.3px">174.72</div>
<div class="vl g" style="right:39.4px;top:535.3px">10</div>
<div class="vl tm" style="left:877.5px;top:556.6px">18:28:15</div>
<div class="vl r" style="right:92.6px;top:556.6px">174.72</div>
<div class="vl g" style="right:39.4px;top:556.6px">1</div>
<div class="vl tm" style="left:877.5px;top:577.9px">18:28:15</div>
<div class="vl r" style="right:92.6px;top:577.9px">174.72</div>
<div class="vl g" style="right:39.4px;top:577.9px">9</div>
<div class="vl tm" style="left:877.5px;top:598.9px">18:28:28</div>
<div class="vl r" style="right:92.6px;top:598.9px">174.72</div>
<div class="vl g" style="right:39.4px;top:598.9px">1</div>
<div class="vl tm" style="left:877.5px;top:620.0px">18:28:30</div>
<div class="vl r" style="right:92.6px;top:620.0px">174.72</div>
<div class="vl g" style="right:39.4px;top:620.0px">2</div>
<div style="position:absolute;left:1071.4px;top:314.4px;width:37px;height:37px;border-radius:50%;background:#2c7634;border:2px solid #8a8a8a;box-shadow:inset 0 0 0 1px #43904a"></div>
<svg style="position:absolute;left:1075px;top:329px" width="6" height="10" viewBox="0 0 6 10"><path d="M5.5 1.5 L1.5 4.5 L5.5 6" stroke="#e0e0e0" stroke-width="0.9" fill="none"/></svg>
</body></html>
